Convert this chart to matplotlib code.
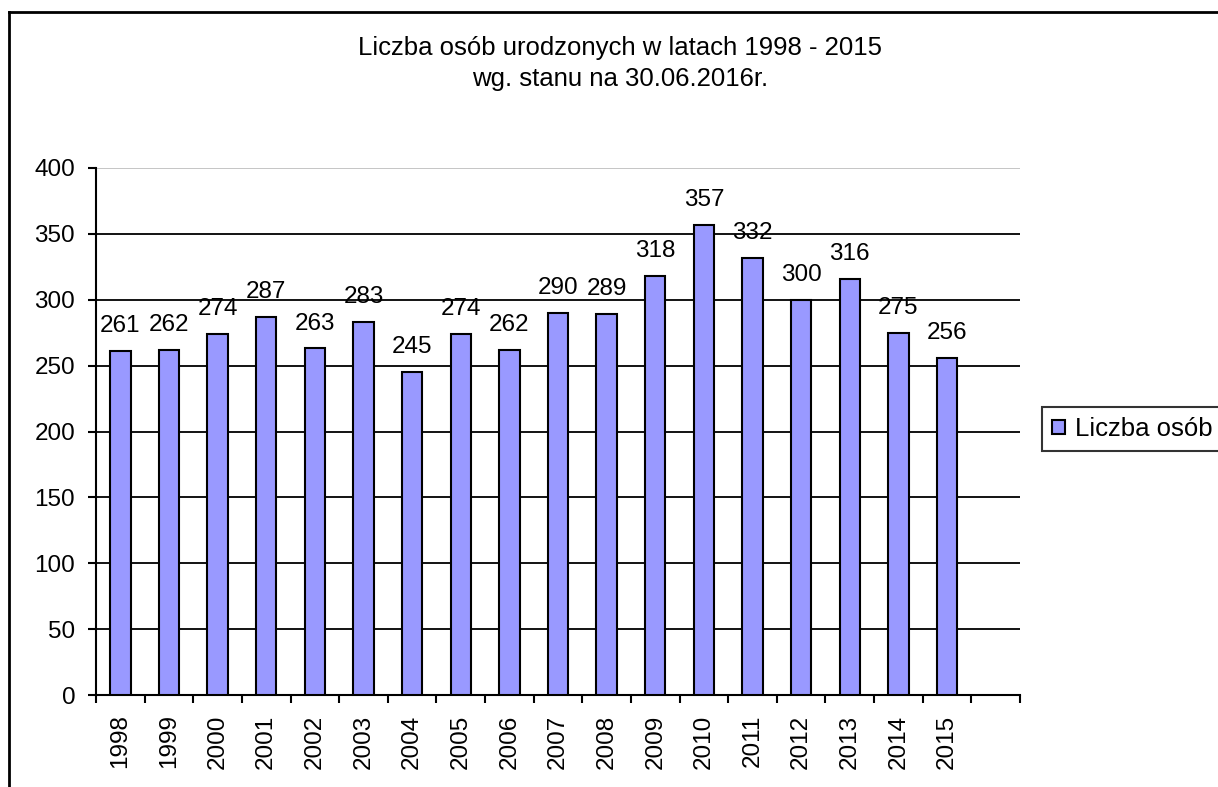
import matplotlib.pyplot as plt
from matplotlib.lines import Line2D

# dane
years = ["1998", "1999", "2000", "2001", "2002", "2003", "2004", "2005", "2006",
         "2007", "2008", "2009", "2010", "2011", "2012", "2013", "2014", "2015"]
counts = [261, 262, 274, 287, 263, 283, 245, 274, 262,
          290, 289, 318, 357, 332, 300, 316, 275, 256]
title_lines = ["Liczba osób urodzonych w latach 1998 - 2015", "wg. stanu na 30.06.2016r."]
legend_label = "Liczba osób"

plt.rcParams['font.family'] = ['Liberation Sans', 'DejaVu Sans']
FS = 17.5

fig = plt.figure(figsize=(12.18, 7.87), dpi=100)
ax = fig.add_axes([96 / 1218, 1 - 695 / 787, (1020 - 96) / 1218, (695 - 168) / 787])

x = list(range(len(years)))
ax.bar(x, counts, width=0.42, color="#9999FF", edgecolor="black",
       linewidth=1.5, label=legend_label, zorder=3)

# etykiety wartości nad słupkami
for xi, v in zip(x, counts):
    ax.annotate(str(v), (xi, v), xytext=(0, 13.5), textcoords="offset points",
                ha="center", va="baseline", fontsize=FS, zorder=4)

ax.set_xlim(-0.5, len(years) + 0.5)
ax.set_ylim(0, 400)

# siatka
for yv in range(50, 400, 50):
    ax.axhline(yv, color="black", linewidth=1.3, zorder=1)
ax.axhline(400, color="#c0c0c0", linewidth=1.3, zorder=1)

# osie
for s in ["top", "right"]:
    ax.spines[s].set_visible(False)
ax.spines["left"].set_linewidth(1.5)
ax.spines["bottom"].set_linewidth(1.5)

ax.set_yticks(range(0, 401, 50))
ax.tick_params(axis="y", direction="out", length=6, width=1.5, labelsize=FS, pad=9)

ax.set_xticks([i - 0.5 for i in range(len(years) + 2)])
ax.set_xticklabels([])
ax.tick_params(axis="x", which="major", direction="out", length=6, width=1.5)
ax.set_xticks(x, minor=True)
ax.set_xticklabels(years, minor=True, rotation=90, fontsize=FS)
ax.tick_params(axis="x", which="minor", length=0, pad=14)

# tytuł
fig.text(620 / 1218, 1 - 48 / 787, title_lines[0], ha="center", va="center", fontsize=18.5)
fig.text(620 / 1218, 1 - 79 / 787, title_lines[1], ha="center", va="center", fontsize=18.5)

# legenda
leg = fig.legend(loc="center left", bbox_to_anchor=(1042 / 1218, 1 - 429 / 787),
                 fontsize=18.5, frameon=True, fancybox=False, handlelength=0.5,
                 handleheight=0.5, handletextpad=0.4, borderpad=0.4, borderaxespad=0)
leg.get_frame().set_edgecolor("black")
leg.get_frame().set_linewidth(1.5)

# ramka wykresu (przycięta z prawej i od dołu)
fig.add_artist(Line2D([9 / 1218, 9 / 1218], [0, 1 - 12 / 787], color="black",
                      linewidth=2, transform=fig.transFigure))
fig.add_artist(Line2D([9 / 1218, 1], [1 - 12 / 787, 1 - 12 / 787], color="black",
                      linewidth=2, transform=fig.transFigure))

fig.savefig("out.png", dpi=100)
